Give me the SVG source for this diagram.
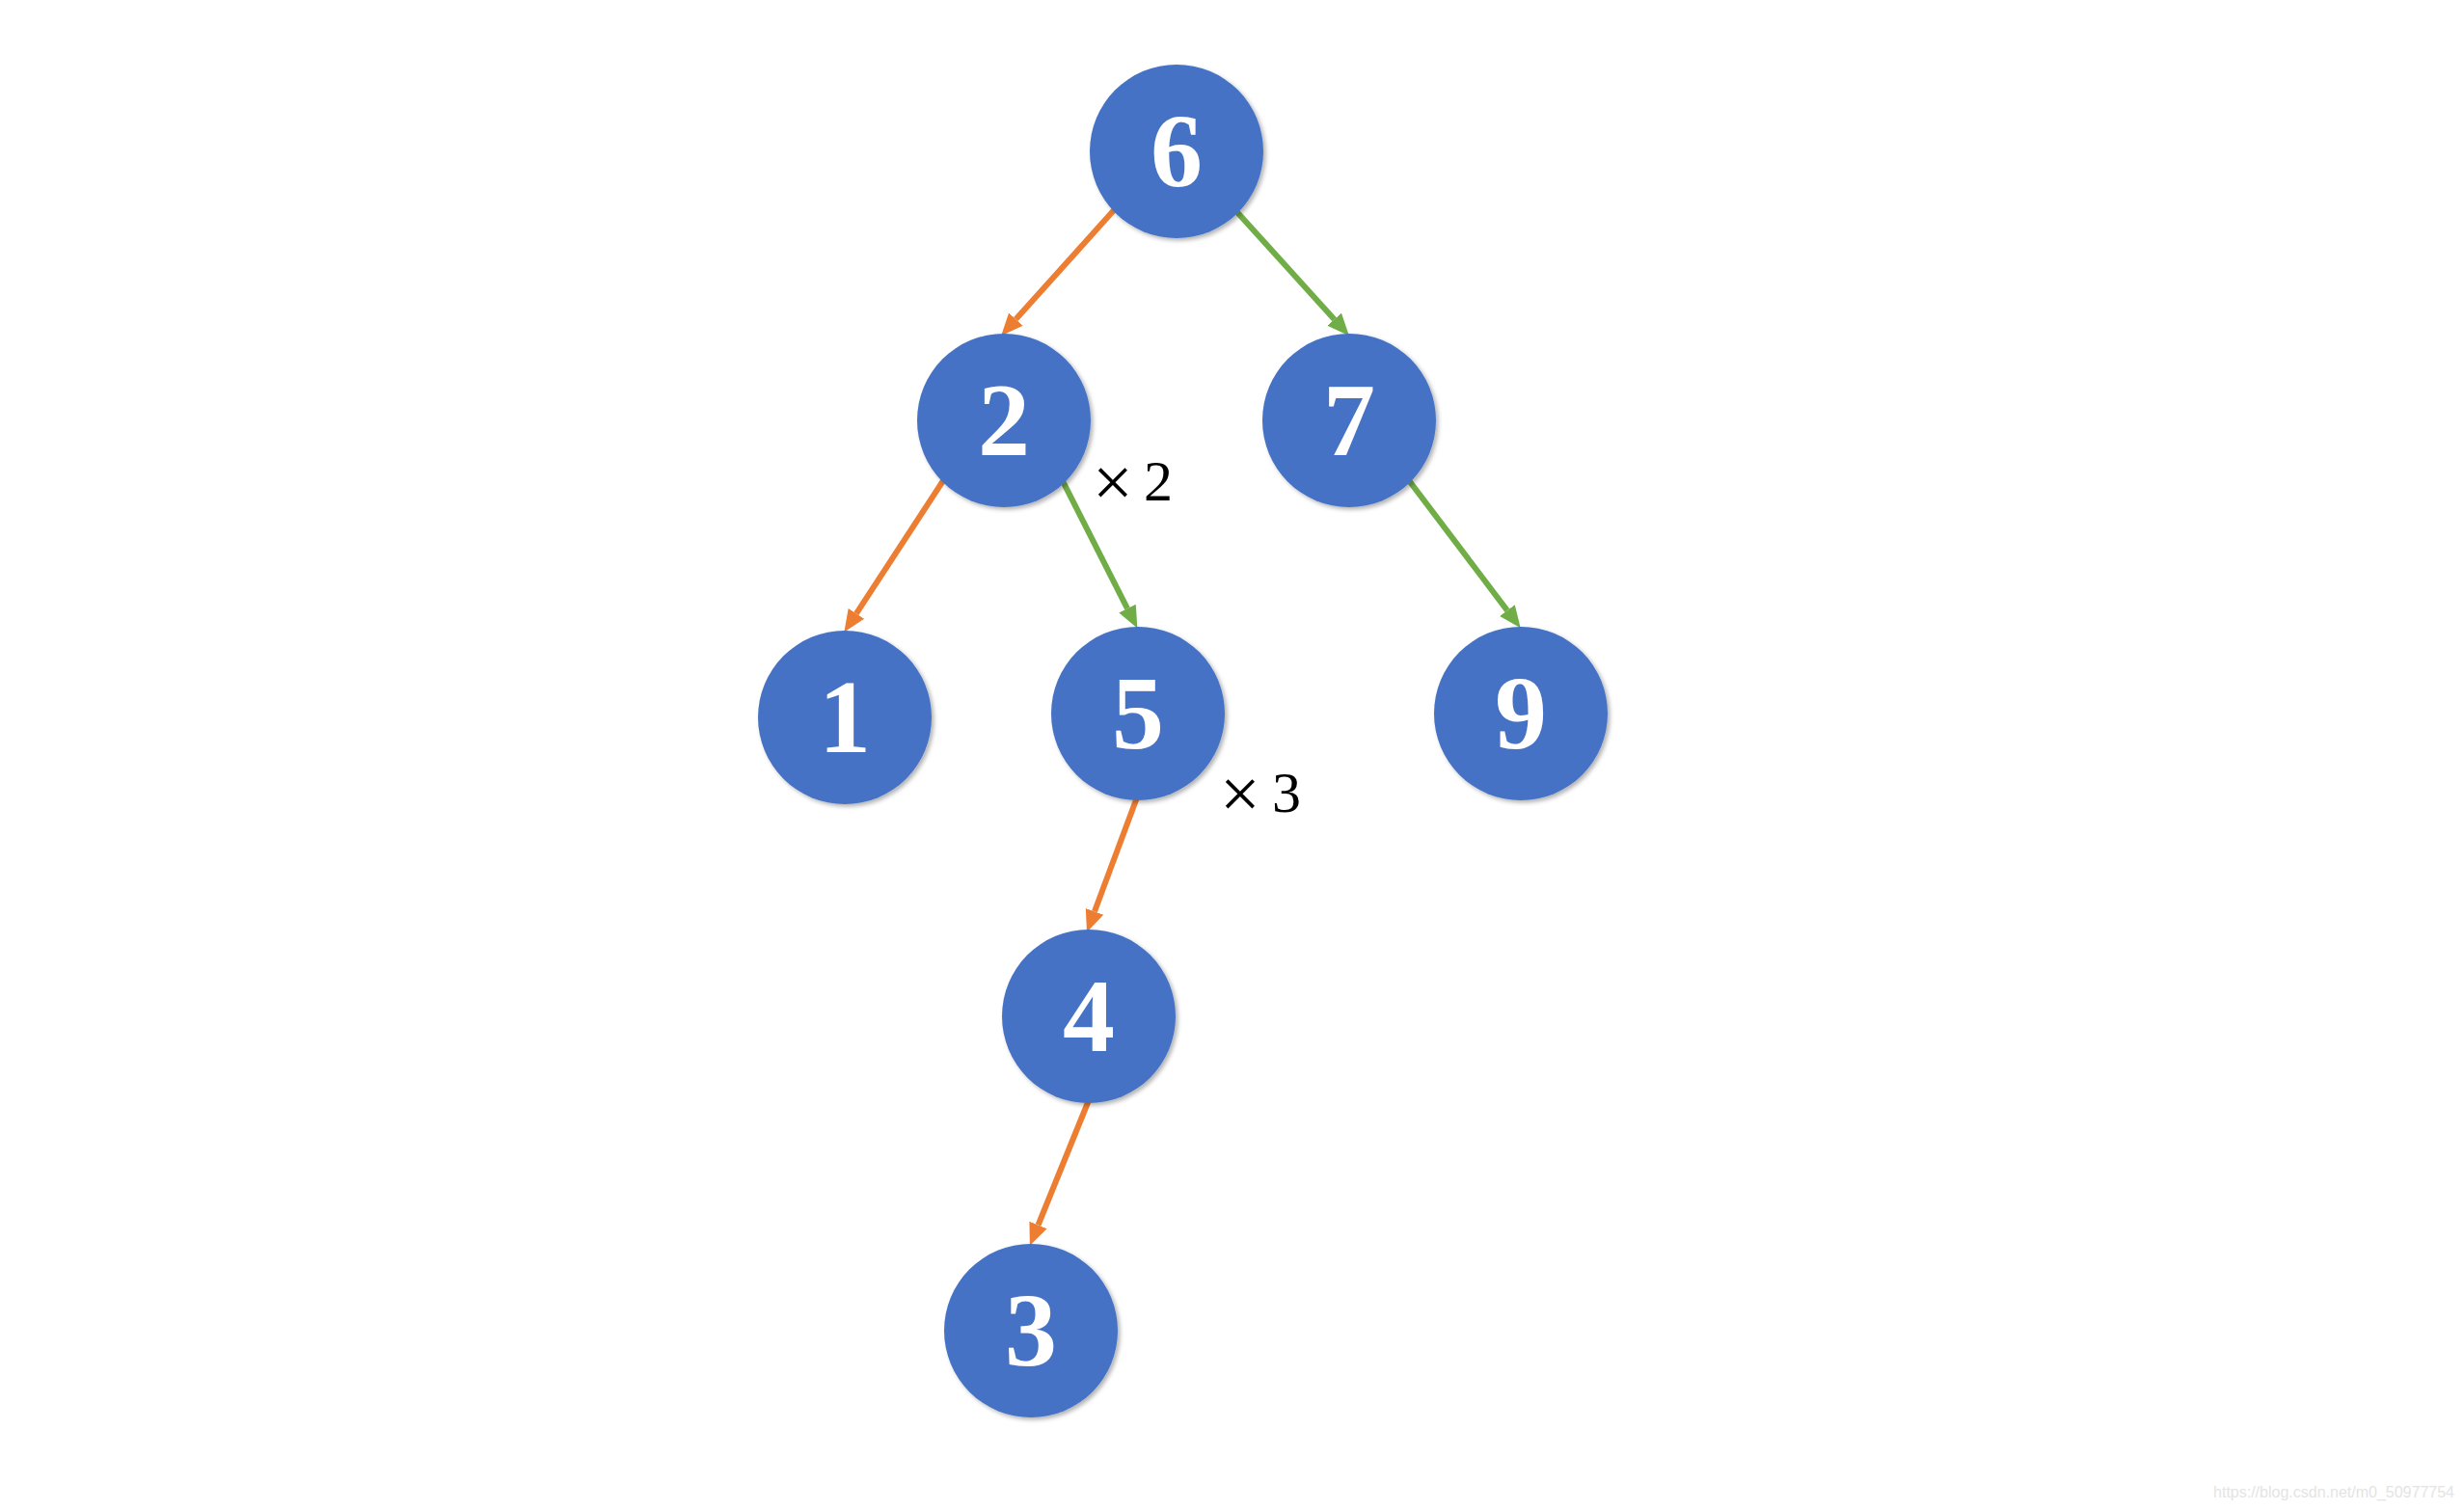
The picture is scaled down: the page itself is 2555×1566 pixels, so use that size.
<svg xmlns="http://www.w3.org/2000/svg" width="2555" height="1566" viewBox="0 0 2555 1566">
  <style>
    .node circle { fill: #4472C4; filter: url(#shadow); }
    .node text { fill: #ffffff; font-family: "Liberation Serif", "DejaVu Serif", serif; font-weight: bold; font-size: 108px; text-anchor: middle; }
    .edge { stroke-width: 6; fill: none; }
    .orange { stroke: #ED7D31; }
    .green { stroke: #70AD47; }
    .label { font-family: "Liberation Serif", "DejaVu Serif", serif; font-size: 60px; fill: #000000; }
    .times { font-size: 74px; }
    .wm { font-family: "Liberation Sans", Arial, sans-serif; font-size: 16px; fill: #e4e4e4; text-anchor: end; }
  </style>
  <defs>
    <filter id="shadow" x="-20%" y="-20%" width="140%" height="140%">
      <feDropShadow dx="2.5" dy="2.5" stdDeviation="2" flood-color="#000000" flood-opacity="0.3"/>
    </filter>
    <marker id="arrowOrange" markerUnits="userSpaceOnUse" markerWidth="24" markerHeight="24" viewBox="0 -10 22 20" refX="0" refY="0" orient="auto">
      <path d="M0,-9 L21,0 L0,9 z" fill="#ED7D31"/>
    </marker>
    <marker id="arrowGreen" markerUnits="userSpaceOnUse" markerWidth="24" markerHeight="24" viewBox="0 -10 22 20" refX="0" refY="0" orient="auto">
      <path d="M0,-9 L21,0 L0,9 z" fill="#70AD47"/>
    </marker>
  </defs>
  <rect x="0" y="0" width="2555" height="1566" fill="#ffffff"/>

  <g id="connectors">
    <line class="edge orange" x1="1155" y1="218" x2="1053.4" y2="331.1" marker-end="url(#arrowOrange)"/>
    <line class="edge green" x1="1281" y1="218" x2="1383.6" y2="331.2" marker-end="url(#arrowGreen)"/>
    <line class="edge orange" x1="979" y1="497" x2="887.9" y2="636.3" marker-end="url(#arrowOrange)"/>
    <line class="edge green" x1="1101" y1="497" x2="1169" y2="631.1" marker-end="url(#arrowGreen)"/>
    <line class="edge green" x1="1460" y1="497" x2="1562.9" y2="633.1" marker-end="url(#arrowGreen)"/>
    <line class="edge orange" x1="1179" y1="827" x2="1135" y2="945.3" marker-end="url(#arrowOrange)"/>
    <line class="edge orange" x1="1129" y1="1141" x2="1076.5" y2="1270.5" marker-end="url(#arrowOrange)"/>
  </g>

  <g id="node-6" class="node"><circle cx="1220" cy="157" r="90"/><text x="1220" y="193">6</text></g>
  <g id="node-2" class="node"><circle cx="1041" cy="436" r="90"/><text x="1041" y="472">2</text></g>
  <g id="node-7" class="node"><circle cx="1399" cy="436" r="90"/><text x="1399" y="472">7</text></g>
  <g id="node-1" class="node"><circle cx="876" cy="744" r="90"/><text x="876" y="780">1</text></g>
  <g id="node-5" class="node"><circle cx="1180" cy="740" r="90"/><text x="1180" y="776">5</text></g>
  <g id="node-9" class="node"><circle cx="1577" cy="740" r="90"/><text x="1577" y="776">9</text></g>
  <g id="node-4" class="node"><circle cx="1129" cy="1054" r="90"/><text x="1129" y="1090">4</text></g>
  <g id="node-3" class="node"><circle cx="1069" cy="1380" r="90"/><text x="1069" y="1416">3</text></g>

  <g id="labels">
    <text class="label" x="1133" y="519"><tspan class="times" y="525">×</tspan> <tspan x="1186" y="519">2</tspan></text>
    <text class="label" x="1265" y="842"><tspan class="times" y="848">×</tspan> <tspan x="1319" y="842">3</tspan></text>
  </g>

  <text class="wm" x="2545" y="1553">https://blog.csdn.net/m0_50977754</text>
</svg>
